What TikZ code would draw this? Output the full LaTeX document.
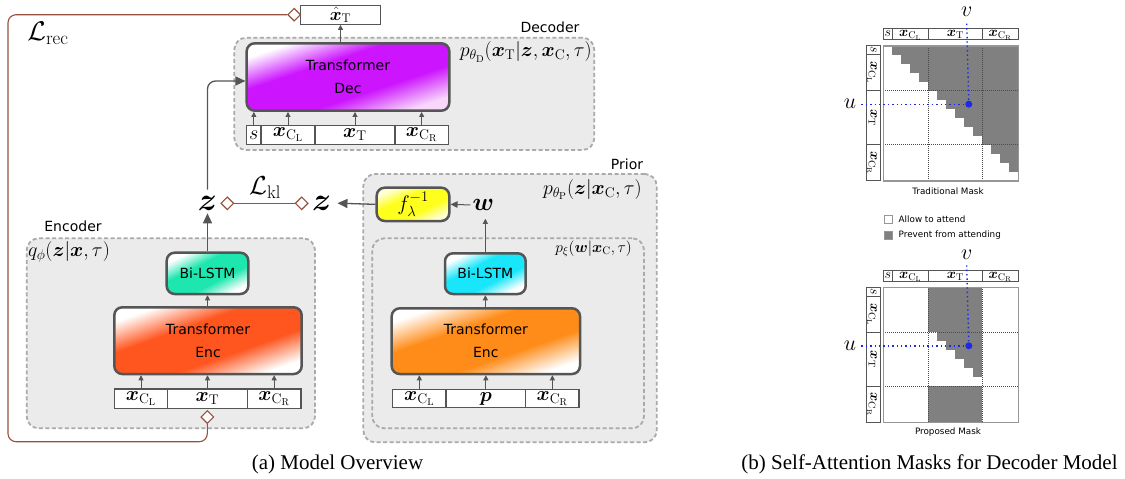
\RequirePackage{fix-cm}
\documentclass[tikz,border=0pt]{standalone}
\usepackage{amsmath}
\usepackage{bm}
\usepackage[no-math]{fontspec}
\newfontfamily\sansf{DejaVu Sans}
\newfontfamily\capf{Liberation Serif}
\usetikzlibrary{arrows.meta,shapes.geometric}
\definecolor{ar}{RGB}{85,85,85}
\definecolor{grpfill}{RGB}{235,235,235}
\definecolor{grpdraw}{RGB}{170,170,170}
\definecolor{loss}{RGB}{150,82,60}
\definecolor{mag}{RGB}{204,20,255}
\definecolor{magl}{RGB}{248,215,250}
\definecolor{redor}{RGB}{255,85,30}
\definecolor{orng}{RGB}{255,140,25}
\definecolor{tealx}{RGB}{30,230,175}
\definecolor{cyanx}{RGB}{25,230,250}
\definecolor{yel}{RGB}{255,255,30}
\definecolor{yell}{RGB}{255,255,215}
\definecolor{maskgray}{RGB}{128,128,128}
\definecolor{mborder}{RGB}{150,150,150}
\definecolor{blu}{RGB}{30,40,230}
\pgfdeclareverticalshading{shdec}{100bp}{color(0bp)=(magl); color(25bp)=(magl); color(40bp)=(mag); color(60bp)=(mag); color(75bp)=(white); color(100bp)=(white)}
\pgfdeclareverticalshading{shenc}{100bp}{color(0bp)=(white); color(25bp)=(white); color(40bp)=(redor); color(60bp)=(redor); color(75bp)=(white); color(100bp)=(white)}
\pgfdeclareverticalshading{shorg}{100bp}{color(0bp)=(white); color(25bp)=(white); color(40bp)=(orng); color(60bp)=(orng); color(75bp)=(white); color(100bp)=(white)}
\pgfdeclareverticalshading{shtea}{100bp}{color(0bp)=(white); color(25bp)=(white); color(40bp)=(tealx); color(60bp)=(tealx); color(75bp)=(white); color(100bp)=(white)}
\pgfdeclareverticalshading{shcya}{100bp}{color(0bp)=(white); color(25bp)=(white); color(40bp)=(cyanx); color(60bp)=(cyanx); color(75bp)=(white); color(100bp)=(white)}
\pgfdeclareverticalshading{shyel}{100bp}{color(0bp)=(yell); color(25bp)=(yell); color(40bp)=(yel); color(60bp)=(yel); color(75bp)=(yell); color(100bp)=(yell)}
\tikzset{
 grp/.style={draw=grpdraw, fill=grpfill, line width=1.8pt, dash pattern=on 4pt off 2.5pt, rounded corners=12pt, inner sep=0pt},
 blk/.style={draw=ar, line width=2.5pt, rounded corners=8pt, align=center, inner sep=0pt, font=\sansf\fontsize{14}{23}\selectfont},
 grad/.style n args={3}{minimum width=#2pt, minimum height=#3pt, shading=#1, shading angle={atan(#3/#2)}},
 inbox/.style={draw=ar, line width=1.1pt, fill=white, inner sep=0pt, font=\fontsize{20}{22}\selectfont},
 bigar/.style={draw=ar, line width=1.3pt, -{Triangle[length=10pt,width=9pt]}},
 midar/.style={draw=ar, line width=1pt, -{Triangle[length=7pt,width=6.5pt]}},
 smar/.style={draw=ar, line width=0.9pt, -{Triangle[length=5pt,width=5pt]}},
 dia/.style={diamond, draw=loss, fill=white, line width=1.1pt, inner sep=0pt, minimum width=13pt, minimum height=13pt},
 lossl/.style={draw=loss, line width=1.1pt},
 sanslbl/.style={font=\sansf\fontsize{14}{16}\selectfont, inner sep=0pt},
 mathlbl/.style={font=\fontsize{20}{22}\selectfont, inner sep=0pt},
 hcell/.style={draw=ar, line width=0.8pt, fill=white, inner sep=0pt, minimum height=11pt, text height=7pt, text depth=2pt, font=\fontsize{14}{15}\selectfont},
 rcell/.style={draw=ar, line width=0.8pt, fill=white, inner sep=0pt, minimum height=13.3pt, text height=8pt, text depth=2.5pt, rotate=-90, font=\fontsize{14}{15}\selectfont},
 blockline/.style={draw=black!70, line width=0.5pt, dash pattern=on 1pt off 1pt},
 bluedot/.style={draw=blu, line width=1.4pt, dash pattern=on 1.4pt off 3pt},
 uvlbl/.style={font=\fontsize{22}{24}\selectfont, inner sep=0pt},
 smalls/.style={font=\sansf\fontsize{8.8}{10}\selectfont, inner sep=0pt},
 caplbl/.style={font=\capf\fontsize{21}{24}\selectfont, inner sep=0pt}
}
\begin{document}
\begin{tikzpicture}[x=1pt,y=-1pt]
\useasboundingbox (0,0) rectangle (1125,479);

% ---------- groups ----------
\node[grp, minimum width=360pt, minimum height=112.3pt] (gdec) at (414.3,93.85) {};
\node[grp, minimum width=288.3pt, minimum height=190pt] (genc) at (170.85,333.3) {};
\node[grp, minimum width=293.4pt, minimum height=268.3pt] (gpri) at (510,308.15) {};
\node[grp, minimum width=271.7pt, minimum height=190pt] (gpin) at (508.15,333.3) {};

\node[sanslbl] (tdec) at (550,27.3) {Decoder};
\node[sanslbl] (tenc) at (73,226) {Encoder};
\node[sanslbl] (tpri) at (627,164) {Prior};

\node[mathlbl, anchor=east] (pd) at (592,52) {$p_{\theta_{\mathrm{D}}}(\bm{x}_{\mathrm{T}}|\bm{z},\bm{x}_{\mathrm{C}},\tau)$};
\node[mathlbl, anchor=west] (qe) at (28,252) {$q_{\phi}(\bm{z}|\bm{x},\tau)$};
\node[mathlbl, anchor=east] (pp) at (642,189.5) {$p_{\theta_{\mathrm{P}}}(\bm{z}|\bm{x}_{\mathrm{C}},\tau)$};
\node[mathlbl, anchor=east, font=\fontsize{15.5}{17}\selectfont] (px) at (632,249) {$p_{\xi}(\bm{w}|\bm{x}_{\mathrm{C}},\tau)$};

% ---------- decoder ----------
\node[blk, grad={shdec}{202.6}{67.4}] (dec) at (348,77) {Transformer\\Dec};
\node[inbox, minimum width=79.6pt, minimum height=18.6pt, font=\fontsize{18}{20}\selectfont] (xhat) at (340.5,15) {$\hat{\bm{x}}_{\mathrm{T}}$};
\node[inbox, minimum width=14.3pt, minimum height=18.6pt] (ds) at (253.85,135) {$s$};
\node[inbox, minimum width=54pt, minimum height=18.6pt] (dcl) at (288,135) {$\bm{x}_{\mathrm{C}_{\mathrm{L}}}$};
\node[inbox, minimum width=80pt, minimum height=18.6pt] (dt) at (355,135) {$\bm{x}_{\mathrm{T}}$};
\node[inbox, minimum width=53.3pt, minimum height=18.6pt] (dcr) at (421.65,135) {$\bm{x}_{\mathrm{C}_{\mathrm{R}}}$};
\foreach \n in {ds,dcl,dt,dcr} {\draw[smar] (\n.north) -- (\n.north |- dec.south);}
\draw[smar] (xhat.south |- dec.north) -- (xhat.south);

% ---------- encoder ----------
\node[blk, grad={shtea}{81.6}{41.3}] (bl1) at (207.5,273.35) {Bi-LSTM};
\node[blk, grad={shenc}{187.4}{66.7}] (enc1) at (208,340.65) {Transformer\\Enc};
\node[inbox, minimum width=53.4pt, minimum height=19.3pt] (ecl) at (141,398.65) {$\bm{x}_{\mathrm{C}_{\mathrm{L}}}$};
\node[inbox, minimum width=79.6pt, minimum height=19.3pt] (et) at (207.5,398.65) {$\bm{x}_{\mathrm{T}}$};
\node[inbox, minimum width=53.7pt, minimum height=19.3pt] (ecr) at (274.15,398.65) {$\bm{x}_{\mathrm{C}_{\mathrm{R}}}$};
\foreach \n in {ecl,et,ecr} {\draw[smar] (\n.north) -- (\n.north |- enc1.south);}
\draw[smar] (enc1.north -| bl1.south) -- (bl1.south);

% ---------- prior ----------
\node[blk, grad={shyel}{72.6}{33.3}, font=\fontsize{21}{23}\selectfont] (fbox) at (413,204.35) {$f_{\lambda}^{-1}$};
\node[blk, grad={shcya}{80.7}{40.7}] (bl2) at (485.35,273.65) {Bi-LSTM};
\node[blk, grad={shorg}{188.3}{65.7}] (enc2) at (485.85,341.15) {Transformer\\Enc};
\node[inbox, minimum width=53.3pt, minimum height=18.4pt] (pcl) at (419.35,398.5) {$\bm{x}_{\mathrm{C}_{\mathrm{L}}}$};
\node[inbox, minimum width=79.7pt, minimum height=18.4pt] (pp0) at (485.85,398.5) {$\bm{p}$};
\node[inbox, minimum width=53.3pt, minimum height=18.4pt] (pcr) at (552.35,398.5) {$\bm{x}_{\mathrm{C}_{\mathrm{R}}}$};
\foreach \n in {pcl,pp0,pcr} {\draw[smar] (\n.north) -- (\n.north |- enc2.south);}
\draw[smar] (enc2.north -| bl2.south) -- (bl2.south);

% ---------- latent ----------
\node[font=\fontsize{32}{34}\selectfont, inner sep=0pt] (z1) at (207.5,203) {$\bm{z}$};
\node[font=\fontsize{32}{34}\selectfont, inner sep=0pt] (z2) at (321.7,203) {$\bm{z}$};
\node[font=\fontsize{25}{27}\selectfont, inner sep=0pt] (w) at (483.3,205) {$\bm{w}$};
\draw[bigar, shorten >=3pt] (bl1.north) -- (bl1.north |- z1.south);
\draw[bigar, rounded corners=8pt, shorten <=6pt] (z1.north) |- ([yshift=-4pt]dec.west);
\draw[bigar, shorten >=6pt] (fbox.west) -- (z2.east);
\draw[midar, shorten <=2pt] (w.west) -- (fbox.east);
\draw[smar, shorten >=8pt] (bl2.north) -- (bl2.north |- w.south);

% ---------- losses ----------
\node[dia] (dk1) at (227.3,203.3) {};
\node[dia] (dk2) at (301.7,203.3) {};
\draw[lossl] (dk1.east) -- (dk2.west);
\node[font=\fontsize{26}{28}\selectfont, inner sep=0pt] (lkl) at (265,188) {$\mathcal{L}_{\mathrm{kl}}$};
\node[dia] (dtop) at (294.2,14.7) {};
\node[dia] (dbot) at (207.3,417) {};
\coordinate (lr1) at (8,441.7);
\draw[lossl, rounded corners=8pt] (dtop.west) -| (lr1) -| (dbot.south);
\node[font=\fontsize{27}{30}\selectfont, inner sep=0pt] (lrec) at (48,33) {$\mathcal{L}_{\mathrm{rec}}$};

% ---------- traditional mask ----------
\begin{scope}[shift={(883.3,45.7)}]
 \fill[white] (0,0) rectangle (135,135);
 \foreach \i in {0,...,13} {\fill[maskgray] ({(\i+1)*9},{\i*9}) rectangle (135,{(\i+1)*9});}
 \draw[blockline] (45,0) -- (45,135) (99,0) -- (99,135) (0,45) -- (135,45) (0,99) -- (135,99);
 \draw[mborder, line width=1.6pt] (0,0) rectangle (135,135);
 \node[hcell, minimum width=9pt] (ta1) at (4.5,-11.4) {$s$};
 \node[hcell, minimum width=36pt] (ta2) at (27,-11.4) {$\bm{x}_{\mathrm{C}_{\mathrm{L}}}$};
 \node[hcell, minimum width=54pt] (ta3) at (72,-11.4) {$\bm{x}_{\mathrm{T}}$};
 \node[hcell, minimum width=36pt] (ta4) at (117,-11.4) {$\bm{x}_{\mathrm{C}_{\mathrm{R}}}$};
 \node[rcell, minimum width=9pt] (tb1) at (-9.95,4.5) {$s$};
 \node[rcell, minimum width=36pt] (tb2) at (-9.95,27) {$\bm{x}_{\mathrm{C}_{\mathrm{L}}}$};
 \node[rcell, minimum width=54pt] (tb3) at (-9.95,72) {$\bm{x}_{\mathrm{T}}$};
 \node[rcell, minimum width=36pt] (tb4) at (-9.95,117) {$\bm{x}_{\mathrm{C}_{\mathrm{R}}}$};
 \node[uvlbl] (tv) at (83.4,-34) {$v$};
 \node[uvlbl] (tu) at (-33.3,58.5) {$u$};
 \node[circle, fill=blu, inner sep=0pt, minimum size=7pt] (tdot) at (85.5,58.5) {};
 \draw[bluedot] (tv.south |- 0,-22) -- (tdot);
 \draw[bluedot] (-22,58.5) -- (tdot);
 \node[smalls] (tcap) at (64.7,145.5) {Traditional Mask};
\end{scope}

% legend
\node[draw=mborder, fill=white, line width=0.6pt, minimum size=8.5pt, inner sep=0pt] (lg1) at (888.5,219.2) {};
\node[draw=mborder, fill=maskgray, line width=0.6pt, minimum size=8.5pt, inner sep=0pt] (lg2) at (888.5,235.5) {};
\node[smalls, anchor=west] (lt1) at (898.5,219.2) {Allow to attend};
\node[smalls, anchor=west] (lt2) at (898.5,235.5) {Prevent from attending};

% ---------- proposed mask ----------
\begin{scope}[shift={(883.3,287.3)}]
 \fill[white] (0,0) rectangle (135,135);
 \fill[maskgray] (45,0) rectangle (99,45);
 \fill[maskgray] (45,99) rectangle (99,135);
 \foreach \i in {5,...,9} {\fill[maskgray] ({(\i+1)*9},{\i*9}) rectangle (99,{(\i+1)*9});}
 \draw[blockline] (45,0) -- (45,135) (99,0) -- (99,135) (0,45) -- (135,45) (0,99) -- (135,99);
 \draw[mborder, line width=1.6pt] (0,0) rectangle (135,135);
 \node[hcell, minimum width=9pt] (pa1) at (4.5,-11.4) {$s$};
 \node[hcell, minimum width=36pt] (pa2) at (27,-11.4) {$\bm{x}_{\mathrm{C}_{\mathrm{L}}}$};
 \node[hcell, minimum width=54pt] (pa3) at (72,-11.4) {$\bm{x}_{\mathrm{T}}$};
 \node[hcell, minimum width=36pt] (pa4) at (117,-11.4) {$\bm{x}_{\mathrm{C}_{\mathrm{R}}}$};
 \node[rcell, minimum width=9pt] (pb1) at (-9.95,4.5) {$s$};
 \node[rcell, minimum width=36pt] (pb2) at (-9.95,27) {$\bm{x}_{\mathrm{C}_{\mathrm{L}}}$};
 \node[rcell, minimum width=54pt] (pb3) at (-9.95,72) {$\bm{x}_{\mathrm{T}}$};
 \node[rcell, minimum width=36pt] (pb4) at (-9.95,117) {$\bm{x}_{\mathrm{C}_{\mathrm{R}}}$};
 \node[uvlbl] (pv) at (83.4,-32.5) {$v$};
 \node[uvlbl] (pu) at (-33.3,58.5) {$u$};
 \node[circle, fill=blu, inner sep=0pt, minimum size=7pt] (pdot) at (85.5,58.5) {};
 \draw[bluedot] (pv.south |- 0,-22) -- (pdot);
 \draw[bluedot] (-22,58.5) -- (pdot);
 \node[smalls] (pcap) at (64.7,144.7) {Proposed Mask};
\end{scope}

% ---------- captions ----------
\node[caplbl] (cap1) at (337.5,464) {(a) Model Overview};
\node[caplbl] (cap2) at (929.5,464) {(b) Self-Attention Masks for Decoder Model};
\end{tikzpicture}
\end{document}
